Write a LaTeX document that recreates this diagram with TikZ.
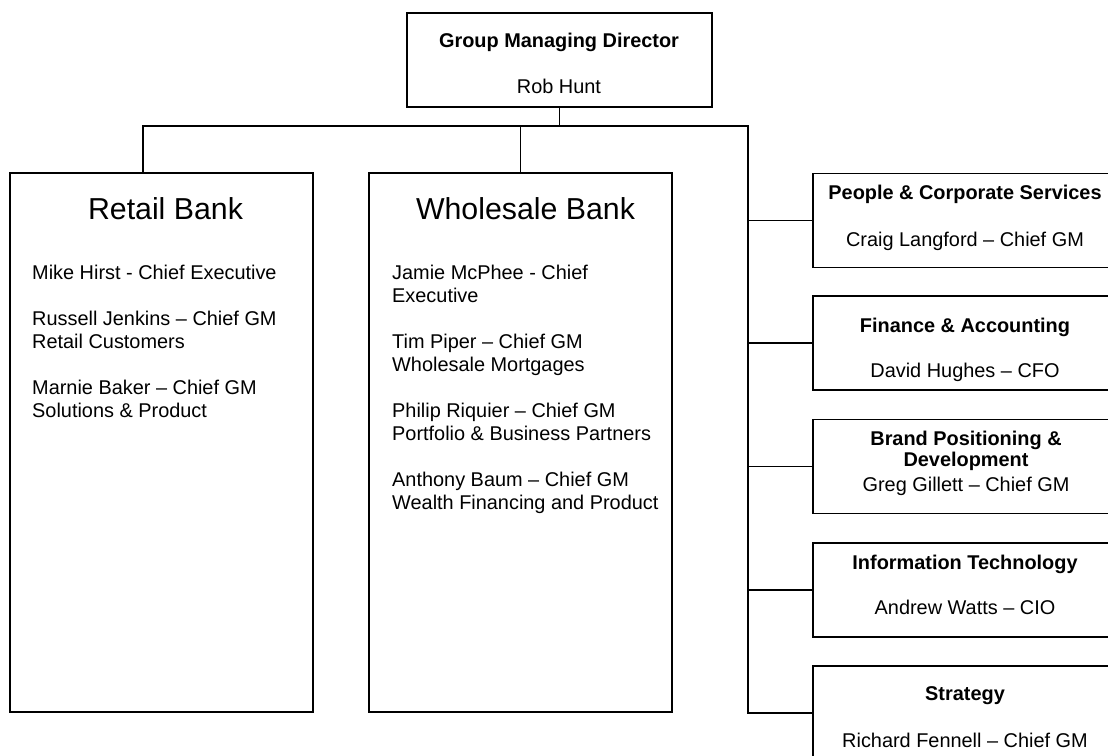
\documentclass[tikz,border=0pt]{standalone}
\usepackage{fontspec}
\setmainfont{Liberation Sans}
\usepackage{tikz}

\tikzset{
  orgbox/.style={draw, line width=1.4pt, inner sep=0pt},
  sidebox/.style={orgbox, minimum width=304pt, minimum height=94pt},
  bankbox/.style={orgbox, minimum width=303pt, minimum height=539pt},
  boxtitle/.style={font=\bfseries\fontsize{19.9}{21}\selectfont, inner sep=0pt},
  boxtext/.style={font=\fontsize{19.9}{23}\selectfont, inner sep=0pt},
  banktitle/.style={font=\fontsize{30.3}{36}\selectfont, inner sep=0pt},
  link/.style={line width=1.4pt},
}

\begin{document}
\begin{tikzpicture}[x=1pt,y=-1pt]
  \useasboundingbox (0,0) rectangle (1108,755);

  % group managing director
  \node[orgbox, minimum width=305pt, minimum height=94pt] (gmd) at (559.5,60) {};
  \node[boxtitle, anchor=base] (gmdtitle) at (559,47) {Group Managing Director};
  \node[boxtext, anchor=base] (gmdname) at (559,93) {Rob Hunt};

  % the two banks
  \node[bankbox] (retail) at (161.5,442.5) {};
  \node[bankbox] (wholesale) at (520.5,442.5) {};
  \node[banktitle, anchor=base] (retailtitle) at (165.5,219) {Retail Bank};
  \node[banktitle, anchor=base] (wholesaletitle) at (525.5,219) {Wholesale Bank};
  \node[boxtext, anchor=north west, align=left] (retailstaff) at (32,265)
    {Mike Hirst - Chief Executive\\[23pt]
     Russell Jenkins – Chief GM\\Retail Customers\\[23pt]
     Marnie Baker – Chief GM\\Solutions \& Product};
  \node[boxtext, anchor=north west, align=left] (wholesalestaff) at (392,265)
    {Jamie McPhee - Chief\\Executive\\[23pt]
     Tim Piper – Chief GM\\Wholesale Mortgages\\[23pt]
     Philip Riquier – Chief GM\\Portfolio \& Business Partners\\[23pt]
     Anthony Baum – Chief GM\\Wealth Financing and Product};

  % group functions
  \node[sidebox] (people) at (965,220.5) {};
  \node[boxtitle, anchor=base] (peopletitle) at (965,199) {People \& Corporate Services};
  \node[boxtext, anchor=base] (peoplename) at (965,246) {Craig Langford – Chief GM};

  \node[sidebox] (finance) at (965,343) {};
  \node[boxtitle, anchor=base] (financetitle) at (965,332) {Finance \& Accounting};
  \node[boxtext, anchor=base] (financename) at (965,377) {David Hughes – CFO};

  \node[sidebox] (brand) at (965,466.5) {};
  \node[boxtitle, anchor=north, align=center] (brandtitle) at (966,431)
    {Brand Positioning \&\\Development};
  \node[boxtext, anchor=base] (brandname) at (966,491) {Greg Gillett – Chief GM};

  \node[sidebox] (it) at (965,590) {};
  \node[boxtitle, anchor=base] (ittitle) at (965,569) {Information Technology};
  \node[boxtext, anchor=base] (itname) at (965,614) {Andrew Watts – CIO};

  \node[sidebox] (strategy) at (965,713) {};
  \node[boxtitle, anchor=base] (strategytitle) at (965,700) {Strategy};
  \node[boxtext, anchor=base] (strategyname) at (965,747) {Richard Fennell – Chief GM};

  % connectors
  \coordinate (busleft) at (143,126);
  \coordinate (busright) at (748,126);
  \draw[link] (gmd.south) -- (gmd.south |- busleft);
  \draw[link] (busleft |- retail.north) -- (busleft) -- (busright) -- (busright |- strategy.west) -- (strategy.west);
  \draw[link] (wholesale.north |- busleft) -- (wholesale.north);
  \foreach \unit in {people,finance,brand,it}
    \draw[link] (busright |- \unit.west) -- (\unit.west);
\end{tikzpicture}
\end{document}
